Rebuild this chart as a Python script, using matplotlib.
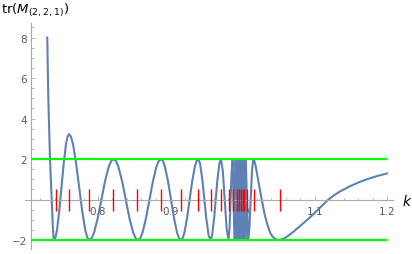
import numpy as np
import matplotlib
matplotlib.use('Agg')
import matplotlib.pyplot as plt
from matplotlib.ticker import FixedLocator

# trace of M_(2,2,1), k -> tr
k_main = [0.7298, 0.7312, 0.7336, 0.7359, 0.7375, 0.7384, 0.7391,
          0.7412, 0.7433, 0.7464, 0.7495, 0.7526, 0.7557, 0.7578, 0.7599,
          0.7627, 0.7655, 0.7697, 0.7740, 0.7782, 0.7824, 0.7852, 0.7880,
          0.7914, 0.7947, 0.7997, 0.8048, 0.8098, 0.8148, 0.8182, 0.8215,
          0.8249, 0.8283, 0.8334, 0.8385, 0.8435, 0.8486, 0.8520, 0.8554,
          0.8586, 0.8618, 0.8665, 0.8713, 0.8761, 0.8808, 0.8840, 0.8872,
          0.8900, 0.8927, 0.8969, 0.9011, 0.9052, 0.9094, 0.9121, 0.9149,
          0.9173, 0.9197, 0.9233, 0.9269, 0.9304, 0.9340, 0.9364, 0.9388,
          0.9413, 0.9447, 0.9473, 0.9498, 0.9532, 0.9557,
          0.9579, 0.9608, 0.9630, 0.9651, 0.9680, 0.9702,
          0.9728, 0.9754, 0.9780, 0.9806,
          0.9821, 0.9835, 0.9850, 0.9864,
          0.9877, 0.9889, 0.9897, 0.9905]
tr_main = [8.0, 5.1, 2.0, 0.0, -1.3, -1.85, -2.0,
           -1.87, -1.50, -0.57, 0.62, 1.80, 2.73, 3.10, 3.23,
           3.10, 2.73, 1.80, 0.62, -0.57, -1.50, -1.87, -2.0,
           -1.90, -1.62, -0.91, 0.0, 0.91, 1.62, 1.90, 2.0,
           1.90, 1.62, 0.91, 0.0, -0.91, -1.62, -1.90, -2.0,
           -1.90, -1.62, -0.91, 0.0, 0.91, 1.62, 1.90, 2.0,
           1.90, 1.62, 0.91, 0.0, -0.91, -1.62, -1.90, -2.0,
           -1.90, -1.62, -0.91, 0.0, 0.91, 1.62, 1.90, 2.0,
           1.78, 0.91, 0.0, -0.91, -1.78, -2.0,
           -1.78, -0.91, 0.0, 0.91, 1.78, 2.0,
           1.41, 0.0, -1.41, -2.0,
           -1.41, 0.0, 1.41, 2.0,
           0.0, -2.0, 0.0, 2.0]

# the dense band near k = 1
k_band = [0.9910, 0.9915, 0.9920, 0.9925, 0.9930, 0.9935, 0.9940, 0.9945,
          0.9950, 0.9955, 0.9960, 0.9965, 0.9970, 0.9975, 0.9980, 0.9985,
          0.9990, 0.9995, 1.0000, 1.0005, 1.0010, 1.0015, 1.0020, 1.0025,
          1.0030, 1.0035, 1.0040, 1.0045]
tr_band = [-2, 2, -2, 2, -2, 2, -2, 2, -2, 2, -2, 2, -2, 2,
           -2, 2, -2, 2, -2, 2, -2, 2, -2, 2, -2, 2, -2, 2]

k_tail = [1.0061, 1.0078, 1.0096, 1.0114, 1.0131, 1.0149,
          1.0165, 1.0180, 1.0200, 1.0230, 1.0266, 1.0311, 1.0350, 1.0381,
          1.0420, 1.0460, 1.0509,
          1.0560, 1.0612, 1.0680, 1.0750, 1.0840, 1.0934, 1.1000, 1.1073,
          1.1188, 1.1270, 1.1349, 1.1488, 1.1600, 1.1719, 1.1860, 1.2000]
tr_tail = [0.0, -2.0, -1.41, 0.0, 1.41, 2.0,
           1.9, 1.7, 1.3, 0.7, 0.0, -0.8, -1.3, -1.62,
           -1.85, -1.96, -2.0,
           -1.94, -1.84, -1.66, -1.45, -1.17, -0.88, -0.65, -0.40,
           0.0, 0.22, 0.40, 0.66, 0.84, 1.00, 1.16, 1.29]

# red markers
k_marks = [0.7415, 0.7603, 0.7880, 0.8203, 0.8544, 0.8872, 0.9153, 0.9388,
           0.9564, 0.9702, 0.9809, 0.9873, 0.9920, 0.9947, 0.9975, 1.0003,
           1.0025, 1.0058, 1.0155, 1.0519]

bounds = [2, -2]
xticks = [0.8, 0.9, 1.0, 1.1, 1.2]
xticklabels = ['0.8', '0.9', '1.0', '1.1', '1.2']
yticks = [-2, 2, 4, 6, 8]
yticklabels = ['\u22122', '2', '4', '6', '8']

k_all = k_main + k_band + k_tail
tr_all = tr_main + tr_band + tr_tail

fig = plt.figure(figsize=(4.12, 2.55), dpi=100)
ax = fig.add_axes([25/412, 5/255, 368/412, 226/255])

ax.plot(k_all, tr_all, color='#5e81b5', lw=1.5, zorder=2, solid_joinstyle='round')
ax.hlines(bounds, 0.7073, 1.2, colors='#00ff00', lw=1.6, zorder=3)
ax.vlines(k_marks, -0.55, 0.52, colors='red', lw=1.0, zorder=4)

ax.set_xlim(0.699, 1.2083)
ax.set_ylim(-2.44, 8.72)

gray = '#aaaaaa'
for s in ['top', 'right']:
    ax.spines[s].set_visible(False)
ax.spines['left'].set_position(('data', 0.7073))
ax.spines['bottom'].set_position(('data', 0))
for s in ['left', 'bottom']:
    ax.spines[s].set_color(gray)
    ax.spines[s].set_linewidth(0.8)

ax.xaxis.set_major_locator(FixedLocator(xticks))
ax.set_xticklabels(xticklabels)
ax.xaxis.set_minor_locator(FixedLocator(list(np.arange(0.72, 1.201, 0.02))))
ax.yaxis.set_major_locator(FixedLocator(yticks))
ax.set_yticklabels(yticklabels)
ax.yaxis.set_minor_locator(FixedLocator(list(np.arange(-2.0, 8.6, 0.5))))

ax.tick_params(which='both', direction='in', color=gray, width=0.6,
               labelcolor='#5a5a5a', labelsize=7.5)
ax.tick_params(which='major', length=3)
ax.tick_params(which='minor', length=1.8)
ax.tick_params(axis='x', pad=4.5)
ax.tick_params(axis='y', pad=3)

fig.text(0.002, 1 - 2/255, r'$\mathrm{tr}(M_{(2,2,1)})$', fontsize=9.5,
         va='top', ha='left')
fig.text(403/412, 1 - 202/255, 'k', fontsize=10, style='italic',
         va='center', ha='left')

fig.savefig('out.png', dpi=100)
